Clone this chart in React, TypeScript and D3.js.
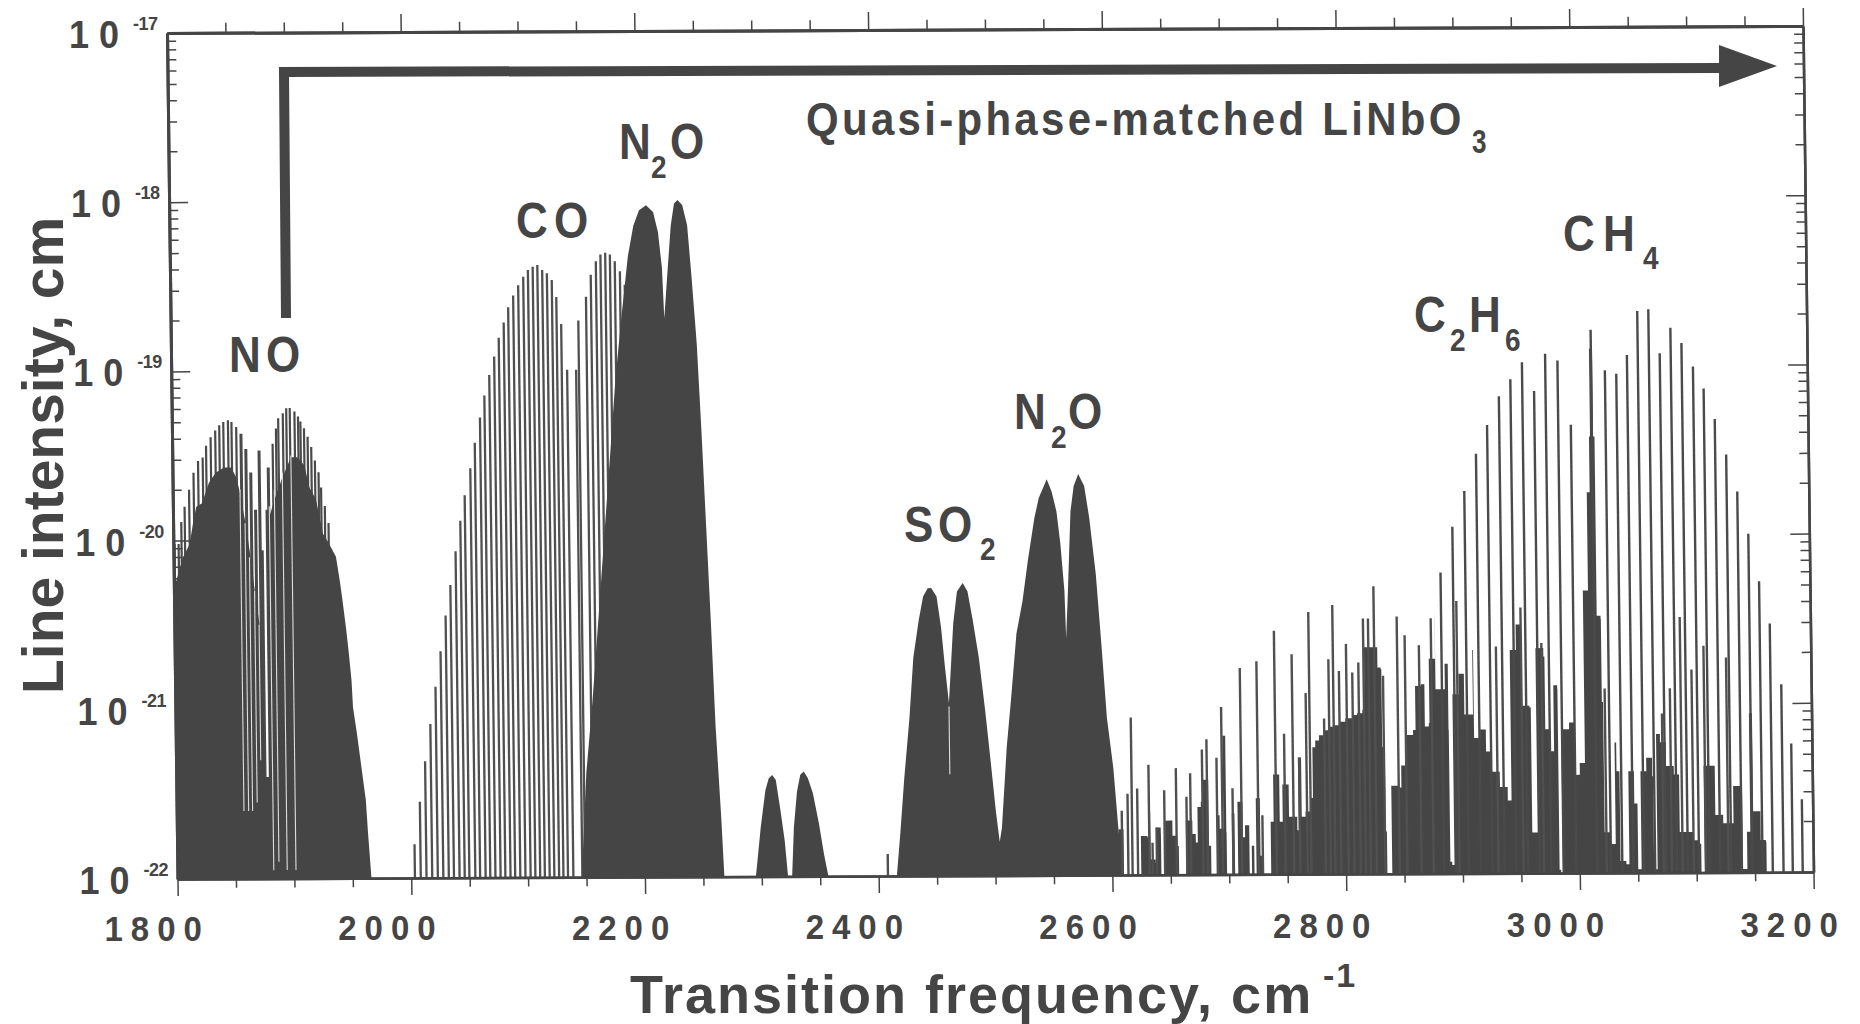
import React, {useEffect, useRef} from "react";
import * as d3 from "d3";

// [frequency in cm-1, log10 of line intensity]
const coLines = [
    [2003.2, -21.80], [2008.2, -21.55], [2013.1, -21.31], [2018.0, -21.09], [2022.8, -20.87], [2027.5, -20.66],
    [2032.2, -20.45], [2036.6, -20.27], [2041.4, -20.07], [2045.8, -19.89], [2049.8, -19.74], [2054.9, -19.58],
    [2059.0, -19.43], [2063.7, -19.28], [2067.7, -19.15], [2072.1, -19.03], [2076.5, -18.92], [2080.6, -18.81],
    [2085.0, -18.72], [2089.0, -18.63], [2093.4, -18.56], [2097.8, -18.50], [2102.2, -18.45], [2106.3, -18.41],
    [2110.4, -18.39], [2114.4, -18.38], [2118.5, -18.41], [2122.5, -18.43], [2126.6, -18.47], [2130.3, -18.57],
    [2134.2, -18.73], [2138.8, -19.00], [2146.5, -19.00], [2148.9, -18.71], [2155.7, -18.57], [2160.0, -18.44],
    [2164.5, -18.36], [2168.5, -18.32], [2172.6, -18.31], [2176.6, -18.32], [2180.7, -18.36], [2185.0, -18.42],
    [2189.0, -18.50], [2193.0, -18.60]
];

const noLines = [
    [1801, -20.02], [1804.5, -20.02], [1807, -19.89], [1810, -19.80], [1814, -19.70], [1818, -19.60], [1822, -19.53],
    [1826, -19.51], [1829, -19.44], [1833, -19.39], [1837, -19.35], [1840.5, -19.32], [1844, -19.30], [1848, -19.29],
    [1851, -19.30], [1855, -19.33], [1886, -19.43], [1889, -19.34], [1891, -19.28], [1895, -19.25],
    [1898, -19.22], [1901, -19.22], [1905, -19.24], [1908, -19.27], [1910, -19.30], [1913, -19.34], [1916, -19.39],
    [1919, -19.45], [1922, -19.53], [1925, -19.60], [1927, -19.69], [1930, -19.80], [1933, -19.90]
];

// the lines around the gap between the NO branches read thicker
const noCentreLines = [
    [1859, -19.37], [1863, -19.46], [1867, -19.60], [1870.7, -19.82], [1874.3, -19.47],
    [1876, -20.06], [1880.5, -19.82], [1882, -19.57]
];

const noFill = [
    [1800, -22], [1800, -20.30], [1802, -20.24], [1808, -20.10], [1814, -20.02], [1817, -19.90], [1820, -19.80],
    [1825, -19.78], [1831, -19.66], [1837, -19.60], [1844, -19.57], [1850, -19.57], [1854, -19.62], [1857, -19.70],
    [1862, -19.90], [1866, -20.10], [1870, -20.35], [1873, -20.50], [1875, -20.80], [1876, -21.40], [1880, -21.40],
    [1881, -20.00], [1883, -19.85], [1887, -19.76], [1894, -19.63], [1901.5, -19.51], [1907, -19.51], [1913, -19.56],
    [1917, -19.69], [1922.5, -19.76], [1928, -19.96], [1933, -20.02], [1939, -20.10], [1942, -20.24], [1944, -20.35],
    [1947, -20.53], [1949, -20.67], [1951, -20.83], [1952, -20.99], [1955, -21.14], [1958.5, -21.34], [1962, -21.54],
    [1963.5, -21.73], [1966, -22]
];

const n2oFill = [
    [2146, -22], [2151, -21.38], [2157, -20.96], [2163, -20.47], [2169, -19.97], [2175, -19.48], [2180, -19.06],
    [2186, -18.68], [2192, -18.33], [2197, -18.15], [2202, -18.06], [2208, -18.03], [2214, -18.07], [2218, -18.19],
    [2221, -18.40], [2222.5, -18.70], [2226, -18.40], [2229, -18.15], [2232, -18.02], [2235, -18.00], [2239, -18.03],
    [2243, -18.15], [2246, -18.43], [2250, -18.85], [2253, -19.35], [2256, -19.91], [2259, -20.47], [2262, -21.10],
    [2266, -21.66], [2268, -22]
];

const lobe2310Fill = [
    [2295, -22], [2299.6, -21.71], [2304, -21.49], [2307, -21.42], [2310, -21.40], [2313, -21.43], [2316.5, -21.60],
    [2320, -21.79], [2322.5, -22]
];

const lobe2337Fill = [
    [2326, -22], [2328, -21.71], [2331, -21.50], [2334, -21.40], [2337, -21.38], [2340.5, -21.42], [2344.6, -21.51],
    [2349.5, -21.69], [2353.5, -21.87], [2357, -22]
];

const so2N2oFill = [
    [2415.6, -22], [2419, -21.75], [2423, -21.42], [2428, -21.07], [2432, -20.71], [2437, -20.49], [2441, -20.35],
    [2445, -20.30], [2448, -20.30], [2452.5, -20.35], [2456, -20.53], [2459, -20.77], [2462, -20.98], [2464, -20.77],
    [2466.5, -20.51], [2470, -20.32], [2475, -20.27], [2479, -20.32], [2483, -20.48], [2488, -20.71], [2493, -21.03],
    [2497, -21.32], [2501, -21.62], [2504, -21.80], [2506, -21.72], [2511, -21.24], [2515, -20.97], [2520.5, -20.57],
    [2526, -20.38], [2531, -20.14], [2537, -19.89], [2541, -19.77], [2548, -19.66], [2552, -19.73], [2556, -19.85],
    [2559, -20.04], [2562, -20.32], [2563, -20.60], [2565, -20.32], [2568, -19.85], [2571, -19.70], [2575, -19.63],
    [2580, -19.70], [2584, -19.89], [2589, -20.22], [2593, -20.63], [2597, -21.07], [2602, -21.37], [2606, -21.76],
    [2606, -21.73], [2610, -21.73], [2610, -22]
];

const hydrocarbonFill = [
    [2624.4, -22], [2624.8, -21.77], [2630.5, -21.78], [2632.2, -21.63], [2633, -21.91], [2637.3, -21.93], [2638, -21.72],
    [2641.9, -21.76], [2642, -22],
    [2645.2, -22], [2645.7, -21.68], [2650.6, -21.68], [2651.9, -21.77], [2655.9, -21.83], [2657.2, -22],
    [2662.9, -22], [2663.4, -21.68], [2667.7, -21.68], [2669, -21.76], [2671.8, -21.81], [2673.5, -21.60], [2676.4, -21.57],
    [2678, -21.44], [2682.9, -21.44], [2683, -21.83], [2684.8, -22],
    [2689, -22], [2690.6, -21.65], [2692.4, -21.73], [2695.6, -21.18], [2697.9, -21.18], [2698, -21.75], [2698.2, -22],
    [2702.2, -22], [2702.8, -21.64], [2705, -21.64], [2705.1, -22],
    [2707, -22], [2707.8, -21.57], [2711.5, -21.57], [2712, -21.78], [2714, -21.71], [2717.5, -21.71], [2717.6, -22],
    [2719.3, -22], [2719.6, -21.83], [2721.6, -21.83], [2721.7, -22],
    [2722.2, -22], [2723.5, -21.55], [2726, -21.55], [2727, -21.89], [2729, -22],
    [2735, -22], [2736, -21.69], [2738.6, -21.41], [2742, -21.41], [2743.8, -21.69], [2746.4, -21.47], [2751, -21.47],
    [2751.8, -21.66], [2756, -21.66], [2758.8, -21.74], [2760, -21.31], [2762, -21.31], [2762.7, -21.66], [2766, -21.63],
    [2770.6, -21.55], [2772.5, -21.25], [2775, -21.21], [2778.3, -21.18], [2782, -21.15], [2786.9, -21.13], [2791, -21.12],
    [2795.6, -21.10], [2801, -21.08], [2807.1, -21.06], [2811, -21.05],
    [2815.7, -21.03], [2817.7, -20.66], [2827.7, -20.66], [2829, -20.78], [2831.7, -20.79], [2832.3, -21.25],
    [2834.4, -21.75], [2835.4, -22],
    [2838.7, -22], [2839.6, -21.48], [2846.3, -21.49], [2848.3, -21.36], [2852, -21.18], [2858.8, -21.15], [2861, -20.89],
    [2866, -20.88], [2869, -21.13], [2872.4, -21.11], [2873, -20.73], [2878.4, -20.49], [2878.5, -20.91], [2886.5, -20.76],
    [2889.2, -21.15], [2889.4, -21.93], [2891, -21.95],
    [2892.9, -20.94], [2898.2, -20.82], [2902.9, -21.06], [2908, -21.06], [2910.3, -20.68], [2911, -21.20], [2916.2, -21.15],
    [2921.1, -21.28], [2925.9, -21.40], [2932.6, -21.49], [2939.2, -21.57], [2942.4, -20.68], [2947.7, -20.53],
    [2951.9, -21.01], [2958.7, -21.02], [2959.8, -21.76], [2964.4, -20.67], [2971.1, -20.72], [2972, -21.15], [2975.2, -21.28],
    [2979.3, -20.89], [2982.6, -20.91], [2982.8, -21.98], [2984.1, -22],
    [2985.6, -21.15], [2992.4, -21.11], [2996.9, -21.42], [3001.1, -21.35], [3005.6, -20.33], [3010, -19.75], [3012.5, -19.42],
    [3013.4, -18.90], [3015.6, -18.90], [3016, -19.42], [3017.2, -20.48], [3020.5, -20.50], [3020.7, -20.99], [3021.7, -21.76], [3026.7, -21.83], [3031.1, -21.23],
    [3032.5, -21.40], [3035, -21.93], [3040, -21.95], [3042.6, -21.40], [3047.4, -21.59], [3050.1, -21.98], [3053, -21.40],
    [3058, -21.32], [3063, -21.43], [3063.7, -21.98], [3066.7, -21.18], [3070, -21.23], [3074.9, -21.37], [3081.5, -21.42],
    [3086, -21.76], [3097.8, -21.81], [3102.8, -21.83], [3104.2, -22],
    [3104.9, -22], [3107, -21.37], [3113.8, -21.37], [3116.6, -21.66], [3123.3, -21.71], [3132.1, -21.49], [3137.2, -21.49],
    [3139.7, -21.98], [3143.5, -21.76], [3146.4, -21.06], [3149, -21.64], [3155.2, -21.81], [3159.6, -21.82], [3160, -22]
];

const hydrocarbonLines = [
    [2408, -21.87], [2608.7, -21.62], [2613.8, -21.52], [2617.4, -21.07], [2622.1, -21.49], [2632, -21.35], [2634.7, -21.81],
    [2638.3, -21.72], [2645.2, -21.50], [2655.4, -21.37], [2664.2, -21.54], [2667.6, -21.40], [2677.9, -21.26], [2681.9, -21.20],
    [2690.3, -21.31], [2694.8, -21.01], [2703.7, -21.49], [2711.2, -20.78], [2725.5, -20.74], [2729, -21.65], [2740.8, -20.56],
    [2748.4, -21.17], [2755.7, -20.70], [2761, -21.31], [2767.3, -20.93], [2770.4, -20.45], [2782.8, -21.08], [2787.1, -20.73],
    [2791, -20.41], [2796, -20.80], [2802.3, -20.64], [2807.4, -20.81], [2812.7, -20.75], [2817.1, -20.49], [2821.4, -20.49],
    [2826.4, -20.30], [2833.7, -20.83], [2846, -20.48], [2852.6, -20.59], [2864.7, -20.65], [2875.1, -20.49], [2897.2, -20.39],
    [2930.6, -20.66], [2952, -20.43], [2969.5, -20.64], [3023.2, -20.91], [3072, -21.06], [3079, -20.91], [3088.2, -20.49],
    [3097.7, -20.80], [3108.2, -20.66], [3127.4, -20.73]
];

const ch4Lines = [
    [2884, -20.22], [2894.6, -19.95], [2905.2, -19.74], [2915.6, -19.52], [2925.4, -19.35], [2935.8, -19.18], [2945.8, -19.08],
    [2955.9, -18.98], [2966, -19.15], [2975.8, -18.93], [2986.3, -18.97], [2997.1, -19.35], [3015, -18.79], [3026.8, -19.03],
    [3036.5, -19.05], [3045.8, -18.94], [3055.1, -18.68], [3064.6, -18.67], [3073.9, -18.93], [3083.3, -18.78], [3092.6, -18.87],
    [3102.2, -19.01], [3111.1, -19.14], [3120.3, -19.32], [3129.7, -19.53], [3138.8, -19.75], [3147.8, -20.00], [3156.5, -20.28],
    [3165.2, -20.53], [3174.4, -20.89], [3182.3, -21.24], [3190.8, -21.57]
];

// white gaps through the filled bands: [frequency, top, bottom]
const gaps = [
    [1857.6, -19.70, -21.60], [1861.6, -19.90, -21.60], [1865, -20.10, -21.60], [1869, -20.30, -21.55], [1872.5, -20.50, -21.30],
    [1882.5, -19.80, -21.95], [1887, -19.70, -21.90], [1894, -19.60, -21.95], [1901.5, -19.50, -21.95], [2462, -21.00, -21.40]
];

const xMajorTicks = [1800, 2000, 2200, 2400, 2600, 2800, 3000, 3200];
const xMinorTicks = [1850, 1900, 1950, 2050, 2100, 2150, 2250, 2300, 2350, 2450, 2500, 2550, 2650, 2700, 2750, 2850, 2900, 2950, 3050, 3100, 3150];
const yDecades = [-22, -21, -20, -19, -18, -17];
const yMantissas = [2, 3, 4, 5, 6, 7, 8, 9];

const ink = "#454545";
const font = "'Liberation Sans', Arial, sans-serif";

// text, x, y, size
const labelRuns: [string, number, number, number][] = [
    ["N", 229, 372, 44], ["O", 266, 372, 44],
    ["C", 516, 238, 44], ["O", 554, 238, 44],
    ["N", 619, 159, 44], ["2", 651, 178, 28], ["O", 670, 159, 44],
    ["S", 904, 542, 44], ["O", 938, 542, 44], ["2", 980, 560, 28],
    ["N", 1014, 429, 44], ["2", 1051, 448, 28], ["O", 1068, 429, 44],
    ["C", 1414, 332, 44], ["2", 1450, 351, 28], ["H", 1469, 332, 44], ["6", 1505, 351, 28],
    ["C", 1563, 251, 44], ["H", 1603, 251, 44], ["4", 1643, 269, 28]
];

const plotW = 1636;
const plotH = 846;

const SpectrumChart = () => {
    const ref = useRef<SVGSVGElement>(null);

    useEffect(() => {
        const svg = d3.select(ref.current);
        svg.selectAll("*").remove();

        const x = d3.scaleLinear().domain([1800, 3200]).range([0, plotW]);
        const y = d3.scaleLog().domain([1e-22, 1e-17]).range([plotH, 0]);
        const yOf = (e: number) => y(Math.pow(10, e));

        // the scan is slightly skewed, so the whole frame is too
        const plot = svg.append("g").attr("transform", `matrix(1,${-7 / plotW},${10.5 / plotH},1,167,33)`);

        const sticks = (rows: number[][], width: number, colour: string) => {
            plot.append("g").selectAll("line").data(rows).join("line")
                .attr("x1", d => x(d[0])).attr("x2", d => x(d[0]))
                .attr("y1", plotH).attr("y2", d => yOf(d[1]))
                .attr("stroke", colour).attr("stroke-width", width);
        };

        const area = d3.area<number[]>().x(d => x(d[0])).y0(plotH).y1(d => yOf(d[1]));

        sticks(coLines, 2.3, "#505050");
        sticks(noLines, 2.2, "#4a4a4a");
        sticks(noCentreLines, 3, "#4a4a4a");
        [noFill, n2oFill, lobe2310Fill, lobe2337Fill, so2N2oFill].forEach(band => {
            plot.append("path").attr("d", area(band)).attr("fill", ink);
        });
        plot.append("path").attr("d", area.curve(d3.curveStepAfter)(hydrocarbonFill)).attr("fill", ink);
        plot.append("g").selectAll("line").data(gaps).join("line")
            .attr("x1", d => x(d[0])).attr("x2", d => x(d[0]))
            .attr("y1", d => yOf(d[1])).attr("y2", d => yOf(d[2]))
            .attr("stroke", "#ddd").attr("stroke-width", 1.1);
        sticks(hydrocarbonLines, 2.4, "#505050");
        sticks(ch4Lines, 2.4, "#4a4a4a");

        // axes
        const majorY = yDecades.map(e => Math.pow(10, e));
        const minorY = yDecades.slice(0, -1).flatMap(e => yMantissas.map(m => m * Math.pow(10, e)));
        const styleAxis = (g: any, width: number) => {
            g.selectAll("path").attr("stroke", ink).attr("stroke-width", width);
            g.selectAll("line").attr("stroke", ink).attr("stroke-width", 1.5);
            g.selectAll("text").remove();
        };
        const addAxis = (axis: any, dx: number, dy: number, width: number) => {
            plot.append("g").attr("transform", `translate(${dx},${dy})`).call(axis).call(styleAxis, width);
        };
        addAxis(d3.axisLeft(y).tickValues(majorY).tickSize(-19).tickSizeOuter(0), 0, 0, 3);
        addAxis(d3.axisLeft(y).tickValues(minorY).tickSize(-9).tickSizeOuter(0), 0, 0, 3);
        addAxis(d3.axisRight(y).tickValues(majorY).tickSize(-19).tickSizeOuter(0), plotW, 0, 2.5);
        addAxis(d3.axisRight(y).tickValues(minorY).tickSize(-9).tickSizeOuter(0), plotW, 0, 2.5);
        addAxis(d3.axisTop(x).tickValues(xMajorTicks.slice(1)).tickSize(18).tickSizeOuter(0), 0, 0, 3);
        addAxis(d3.axisTop(x).tickValues(xMinorTicks).tickSize(10).tickSizeOuter(0), 0, 0, 3);
        addAxis(d3.axisBottom(x).tickValues(xMajorTicks).tickSize(17).tickSizeOuter(0), 0, plotH, 2.5);
        addAxis(d3.axisBottom(x).tickValues(xMinorTicks).tickSize(9).tickSizeOuter(0), 0, plotH, 2.5);

        // the scan stretches the lettering vertically, sy carries that
        const write = (s: string, px: number, py: number, size: number, spacing = 0, sy = 1) =>
            svg.append("text").text(s).attr("transform", `translate(${px},${py}) scale(1,${sy})`)
                .attr("font-family", font).attr("font-weight", "bold").attr("font-size", size)
                .attr("letter-spacing", spacing).attr("fill", ink);

        // tick labels
        xMajorTicks.forEach(t => {
            write(String(t), 104.5 + x(t), 941 - x(t) * 7 / plotW * 0.6, 33, 8, 1.08);
        });
        yDecades.forEach(e => {
            const py = 33 + yOf(e);
            const ax = 167 + yOf(e) * 10.5 / plotH;
            write("10", ax - 98, py + 15, 36, 10, 1.06);
            write(String(e), ax - 34, py - 3, 18, -0.5);
        });

        // axis titles
        write("Line intensity, cm", 0, 0, 57).attr("transform", "translate(63,694) rotate(-90)");
        write("Transition frequency, cm", 630, 1013, 54, 2);
        write("-1", 1323, 987, 34, 2);

        // arrow
        svg.append("path").attr("d", d3.line()([[286, 318], [284, 72], [1722, 68]]) as string)
            .attr("fill", "none").attr("stroke", ink).attr("stroke-width", 10);
        svg.append("path").attr("d", d3.line()([[1719, 45], [1777, 66], [1719, 87]]) as string + "Z").attr("fill", ink);

        // annotations
        write("Quasi-phase-matched LiNbO", 806, 135, 42, 3.3, 1.12);
        write("3", 1472, 153, 26, 0, 1.25);
        labelRuns.forEach(([s, px, py, size]) => write(s, px, py, size, 0, 1.13));
    }, []);

    return (
        <svg ref={ref} width={1860} height={1024} viewBox="0 0 1860 1024"
             style={{position: "absolute", left: 0, top: 0, background: "#fff"}}/>
    );
};

export default function App() {
    return <SpectrumChart/>;
}
